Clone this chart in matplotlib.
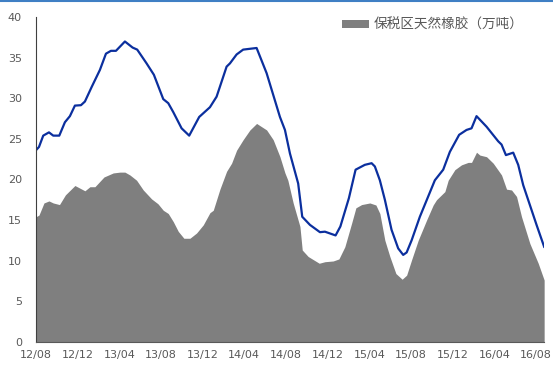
import matplotlib
matplotlib.use("Agg")
import matplotlib.pyplot as plt
from matplotlib.lines import Line2D

plt.rcParams['font.family'] = ['DejaVu Sans', 'Noto Sans CJK SC']

# x = months since 2012-08
line_x = [0.0, 0.29, 0.70, 1.25, 1.66, 2.24, 2.78, 3.26, 3.74, 4.32, 4.70, 5.35, 6.14, 6.72,
          7.20, 7.68, 8.54, 9.28, 9.72, 10.62, 11.32, 12.22, 12.70, 13.18, 13.98, 14.71, 15.67,
          16.70, 17.34, 18.30, 18.62, 19.26, 19.89, 21.18, 22.14, 23.42, 23.90, 24.38, 25.17,
          25.56, 26.30, 27.26, 27.74, 28.76, 29.22, 30.04, 30.68, 31.57, 32.22, 32.53, 33.01,
          33.49, 34.13, 34.77, 35.25, 35.58, 36.06, 36.85, 37.65, 38.29, 39.09, 39.73, 40.62,
          41.33, 41.81, 42.29, 43.25, 44.37, 44.69, 45.11, 45.81, 46.29, 46.77, 48.05, 48.78]
line_y = [23.6, 24.0, 25.4, 25.8, 25.4, 25.4, 27.05, 27.8, 29.1, 29.15, 29.6, 31.4, 33.5, 35.5,
          35.85, 35.85, 37.0, 36.25, 36.0, 34.3, 32.9, 29.9, 29.4, 28.3, 26.3, 25.4, 27.7,
          28.9, 30.2, 33.9, 34.3, 35.4, 36.0, 36.2, 33.1, 27.7, 26.1, 23.2, 19.5,
          15.4, 14.4, 13.5, 13.56, 13.1, 14.2, 17.7, 21.2, 21.8, 22.0, 21.6, 19.9,
          17.5, 13.8, 11.5, 10.7, 11.0, 12.5, 15.4, 17.9, 19.9, 21.2, 23.4, 25.5,
          26.1, 26.3, 27.8, 26.5, 24.7, 24.3, 23.0, 23.3, 21.8, 19.3, 14.4, 11.7]

area_x = [0.0, 0.29, 0.77, 1.25, 1.66, 2.26, 2.83, 3.74, 4.70, 5.18, 5.66, 6.53, 7.42, 8.06,
          8.54, 9.02, 9.66, 10.30, 11.10, 11.71, 12.22, 12.70, 13.18, 13.66, 14.20, 14.78,
          15.42, 16.06, 16.70, 17.02, 17.66, 18.30, 18.78, 19.26, 19.89, 20.54, 21.18, 22.14,
          22.77, 23.42, 23.90, 24.18, 24.69, 25.34, 25.56, 26.13, 27.19, 27.74, 28.53, 29.08,
          29.65, 30.30, 30.71, 31.26, 32.05, 32.63, 33.01, 33.49, 33.97, 34.55, 35.15, 35.58,
          36.06, 36.69, 37.50, 38.13, 38.45, 39.25, 39.57, 40.21, 40.85, 41.49, 41.81, 42.29,
          42.61, 43.25, 43.89, 44.69, 45.17, 45.65, 46.13, 46.61, 47.41, 48.21, 48.78]
area_y = [15.4, 15.6, 17.1, 17.35, 17.1, 16.9, 18.1, 19.25, 18.6, 19.1, 19.1, 20.3, 20.8, 20.9,
          20.9, 20.55, 19.9, 18.7, 17.6, 17.0, 16.2, 15.8, 14.8, 13.6, 12.75, 12.75,
          13.4, 14.4, 15.9, 16.2, 18.8, 21.0, 22.0, 23.6, 24.9, 26.1, 26.9, 26.1,
          24.9, 22.8, 20.8, 19.9, 17.1, 14.2, 11.3, 10.5, 9.67, 9.86, 9.95, 10.2,
          11.7, 14.6, 16.5, 16.9, 17.1, 16.85, 15.8, 12.5, 10.5, 8.4, 7.7, 8.2,
          10.1, 12.5, 15.0, 16.85, 17.5, 18.5, 19.9, 21.2, 21.8, 22.1, 22.1, 23.35,
          23.0, 22.8, 22.0, 20.55, 18.8, 18.7, 17.9, 15.4, 12.1, 9.67, 7.6]

tick_pos = [0, 4, 8, 12, 16, 20, 24, 28, 32, 36, 40, 44, 48]
tick_labels = ['12/08', '12/12', '13/04', '13/08', '13/12', '14/04', '14/08', '14/12',
               '15/04', '15/08', '15/12', '16/04', '16/08']
legend_label = '保税区天然橡胶（万吨）'

fig = plt.figure(figsize=(5.53, 3.65), dpi=100)
ax = fig.add_axes([0.065, 0.0638, 0.919, 0.8892])

ax.fill_between(area_x, 0, area_y, color='#7f7f7f', linewidth=0, label=legend_label)
ax.plot(line_x, line_y, color='#0b2f9e', linewidth=1.6)

ax.set_xlim(0, 48.78)
ax.set_ylim(0, 40)
ax.set_yticks(range(0, 41, 5))
ax.set_xticks(tick_pos)
ax.set_xticklabels(tick_labels)
ax.tick_params(axis='both', length=0, labelsize=8, labelcolor='#595959')
ax.tick_params(axis='y', pad=10)
ax.tick_params(axis='x', pad=6)

for s in ['top', 'right']:
    ax.spines[s].set_visible(False)
ax.spines['left'].set_color('#404040')
ax.spines['bottom'].set_color('#595959')
ax.spines['left'].set_linewidth(0.8)
ax.spines['bottom'].set_linewidth(0.8)

leg = ax.legend(loc='upper left', bbox_to_anchor=(0.602, 0.999), frameon=False,
                prop={'family': ['Noto Sans CJK SC', 'DejaVu Sans'], 'size': 9.8},
                handlelength=2.0, handleheight=0.55, handletextpad=0.3, borderaxespad=0,
                borderpad=0)
for t in leg.get_texts():
    t.set_color('#595959')

fig.add_artist(Line2D([0, 1], [0.998, 0.998], transform=fig.transFigure,
                      color='#3f7fc4', linewidth=1.5))

fig.savefig('out.png', dpi=100)
